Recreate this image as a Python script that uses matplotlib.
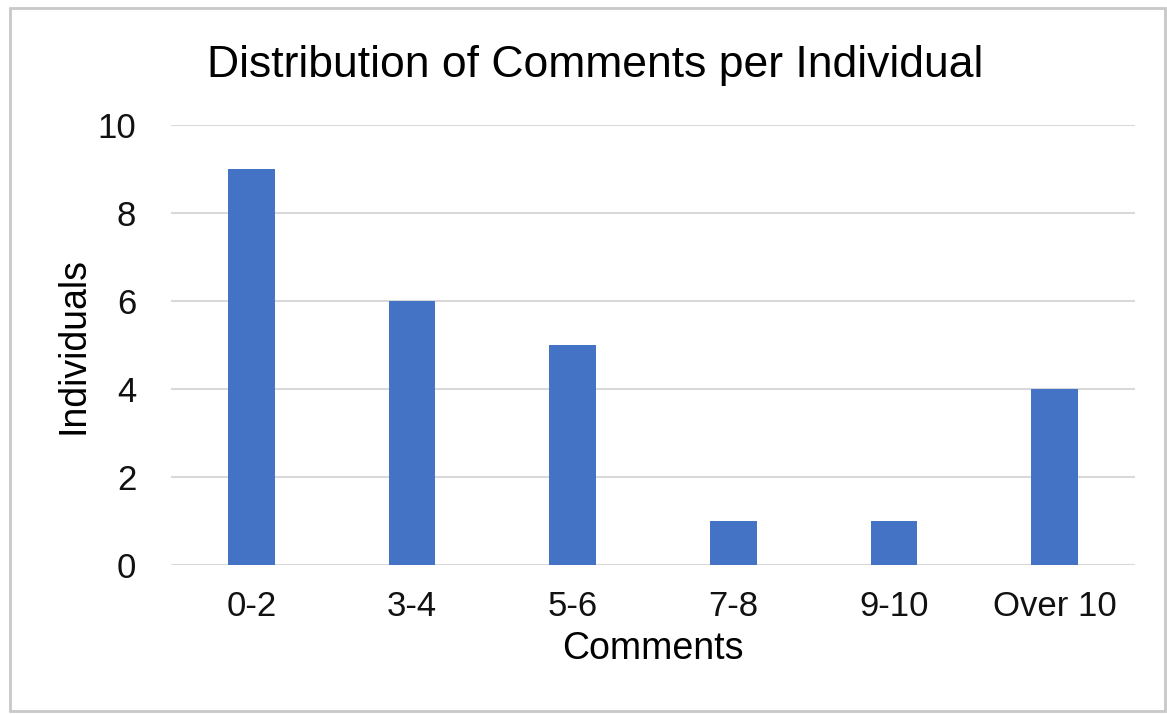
import matplotlib.pyplot as plt
from matplotlib.patches import Rectangle

plt.rcParams['font.family'] = ['Liberation Sans', 'DejaVu Sans']

# comment-count buckets and how many people fell in each
buckets = ['0-2', '3-4', '5-6', '7-8', '9-10', 'Over 10']
individuals = [9, 6, 5, 1, 1, 4]

fig = plt.figure(figsize=(11.67, 7.14), dpi=100)
ax = fig.add_axes([0.1465, 0.2087, 0.826, 0.6162])

x = range(len(buckets))
ax.bar(x, individuals, width=0.29, color='#4472C4', zorder=3)

ax.set_xlim(-0.5, len(buckets) - 0.5)
ax.set_ylim(0, 10)
ax.set_yticks(range(0, 11, 2))
ax.set_xticks(list(x))
ax.set_xticklabels(buckets)
ax.grid(axis='y', color='#D9D9D9', linewidth=1.5, zorder=0)
for s in ax.spines.values():
    s.set_visible(False)
ax.tick_params(length=0, labelsize=25, colors='#111111')
ax.tick_params(axis='y', pad=25)
ax.tick_params(axis='x', pad=18)

ax.set_xlabel('Comments', fontsize=27, labelpad=6)
ax.set_ylabel('Individuals', fontsize=27, labelpad=4)
fig.text(595 / 1167, 1 - 65 / 714, 'Distribution of Comments per Individual',
         fontsize=32, ha='center', va='center')

# light frame around the whole chart
fig.patches.append(Rectangle((10 / 1167, 3 / 714), 1155 / 1167, 703 / 714,
                             transform=fig.transFigure, fill=False,
                             edgecolor='#C8C8C8', linewidth=2))

fig.savefig('out.png', dpi=100)
